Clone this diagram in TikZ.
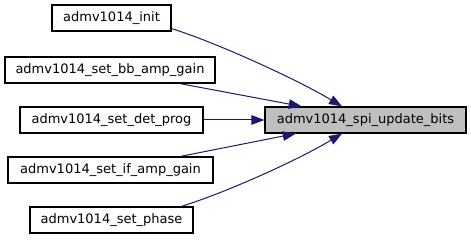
\documentclass[tikz,border=0pt]{standalone}
\usepackage{fontspec}
\setmainfont{DejaVu Sans}
\usetikzlibrary{arrows.meta}
\definecolor{edgeblue}{HTML}{191970}
\definecolor{hilite}{HTML}{BFBFBF}
\begin{document}
\begin{tikzpicture}[x=1pt,y=-1pt,
  fn/.style={draw=black, line width=1.1pt, fill=white, minimum height=26pt,
    inner sep=0pt, font=\fontsize{13}{15}\selectfont, text=black},
  call/.style={draw=edgeblue, line width=1pt,
    -{Triangle[length=13pt,width=9.5pt]}, fill=none},
]
\useasboundingbox (0,0) rectangle (471,240);

% callers
\node[fn, minimum width=119pt] (init)  at (111.5,18)  {admv1014\_init};
\node[fn, minimum width=210pt] (bb)    at (110,70)    {admv1014\_set\_bb\_amp\_gain};
\node[fn, minimum width=183pt] (det)   at (111.5,120) {admv1014\_set\_det\_prog};
\node[fn, minimum width=205pt] (ifg)   at (110.5,170) {admv1014\_set\_if\_amp\_gain};
\node[fn, minimum width=163pt] (phase) at (111.5,220) {admv1014\_set\_phase};

% callee
\node[fn, fill=hilite, minimum width=201pt] (spi) at (365.5,120) {admv1014\_spi\_update\_bits};

% call edges
\draw[call] (init.-10.5) .. controls +(45,14) and +(-45,-27) .. (spi.150);
\draw[call] (bb.-11.3) -- (spi.168.4);
\draw[call] (det.east) -- (spi.west);
\draw[call] (ifg.11.4) -- (spi.191.6);
\draw[call] (phase.11.6) .. controls +(45,-14) and +(-45,27) .. (spi.210);
\end{tikzpicture}
\end{document}
